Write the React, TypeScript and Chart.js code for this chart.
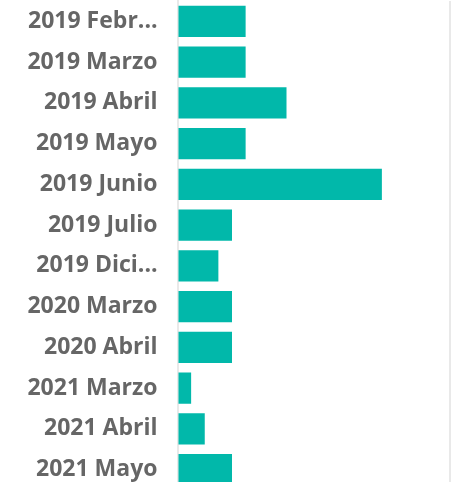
import React, { useEffect, useRef } from "react";
import { Chart, registerables } from "chart.js";

Chart.register(...registerables);

const categories = [
  "2019 Febr...",
  "2019 Marzo",
  "2019 Abril",
  "2019 Mayo",
  "2019 Junio",
  "2019 Julio",
  "2019 Dici...",
  "2020 Marzo",
  "2020 Abril",
  "2021 Marzo",
  "2021 Abril",
  "2021 Mayo",
];
const values = [5, 5, 8, 5, 15, 4, 3, 4, 4, 1, 2, 4];
const axisMax = 20;

export default function App() {
  const ref = useRef<HTMLCanvasElement | null>(null);
  useEffect(() => {
    if (!ref.current) return;
    const chart = new Chart(ref.current, {
      type: "bar",
      data: {
        labels: categories,
        datasets: [
          {
            data: values,
            backgroundColor: "#01B8AA",
            borderWidth: 0,
            barPercentage: 1,
            categoryPercentage: 0.763,
          },
        ],
      },
      options: {
        indexAxis: "y",
        animation: false,
        responsive: false,
        maintainAspectRatio: false,
        layout: { padding: { top: 1, right: 14, bottom: 0, left: 0 } },
        plugins: { legend: { display: false }, tooltip: { enabled: false } },
        scales: {
          x: {
            min: 0,
            max: axisMax,
            afterFit: (s: any) => {
              s.height = 0;
              s.paddingLeft = 0;
              s.paddingRight = 0;
            },
            ticks: { display: false, stepSize: axisMax },
            grid: { color: "#e9e9e9", lineWidth: 2, drawTicks: false },
            border: { display: false },
          },
          y: {
            afterFit: (s: any) => {
              s.width = 177.5;
              s.paddingTop = 0;
              s.paddingBottom = 0;
            },
            ticks: {
              padding: 20,
              color: "#666666",
              font: { family: "'Open Sans'", weight: "bold", size: 23 },
            },
            grid: { display: false, drawTicks: false },
            border: { display: true, color: "#e9e9e9", width: 2 },
          },
        },
      },
    });
    return () => chart.destroy();
  }, []);
  return (
    <div style={{ position: "absolute", left: 0, top: 0, width: 464, height: 490 }}>
      <canvas ref={ref} width={464} height={490} style={{ width: 464, height: 490 }} />
    </div>
  );
}
